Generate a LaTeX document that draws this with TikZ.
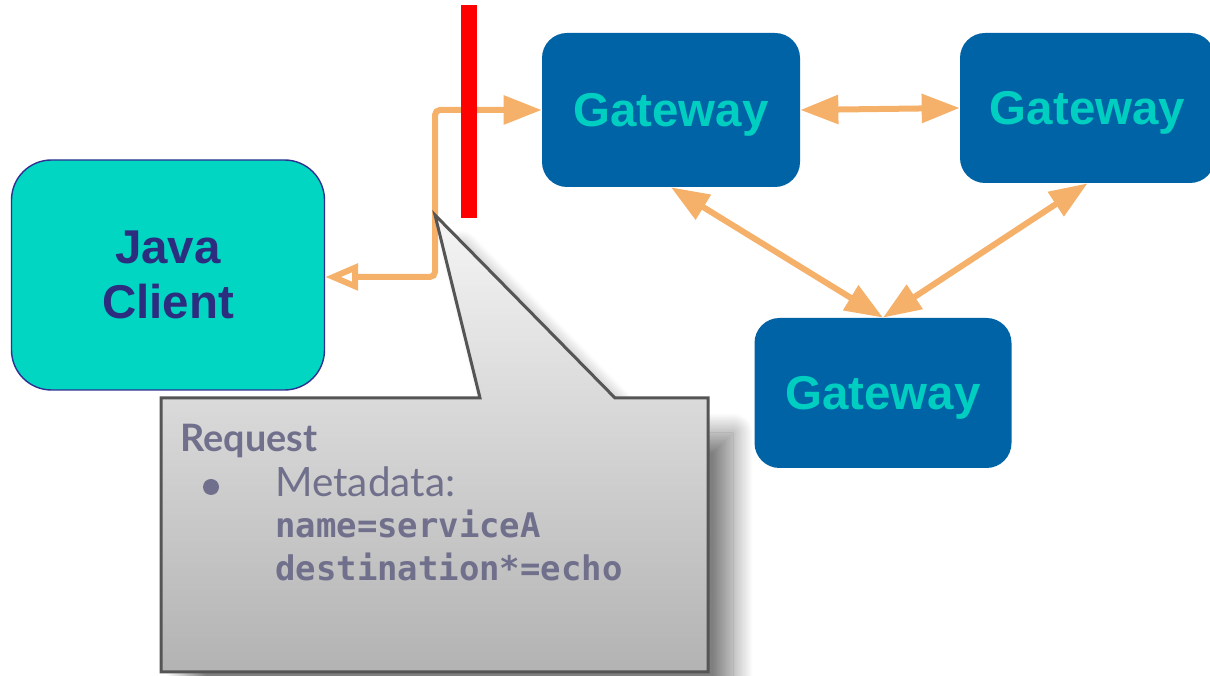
\documentclass[tikz,border=0pt]{standalone}
\usepackage{fontspec}
\setmainfont{Liberation Sans}
\newfontfamily\latofont{Lato}
\setmonofont{DejaVu Sans Mono}
\usetikzlibrary{arrows.meta,shadows.blur}
\definecolor{clientfill}{RGB}{0,214,194}
\definecolor{clientline}{RGB}{46,49,146}
\definecolor{clienttext}{RGB}{45,45,128}
\definecolor{gwblue}{RGB}{0,99,166}
\definecolor{gwtext}{RGB}{0,206,192}
\definecolor{linkc}{RGB}{245,176,106}
\definecolor{calltext}{RGB}{112,112,140}
\definecolor{callline}{RGB}{85,85,85}
\begin{document}
\begin{tikzpicture}[
    client/.style={draw=clientline,line width=0.8pt,fill=clientfill,
        rounded corners=8mm,minimum width=6.26cm,minimum height=4.6cm,
        align=center,text=clienttext,font=\fontsize{27}{31.3}\selectfont\bfseries},
    gw/.style={fill=gwblue,rounded corners=5mm,minimum width=5.16cm,
        minimum height=3.08cm,text depth=0pt,text=gwtext,
        font=\fontsize{27}{32}\selectfont\bfseries},
    wall/.style={fill=red,inner sep=0pt,minimum width=3.2mm,minimum height=4.26cm},
    link/.style={draw=linkc,line width=1.2mm,
        arrows={Triangle[length=7.6mm,width=5.6mm]-Triangle[length=7.6mm,width=5.6mm]}},
    reqlink/.style={draw=linkc,line width=1.2mm,rounded corners=1mm,
        arrows={Triangle[open,length=6.6mm,width=5.2mm]-Triangle[length=7.6mm,width=5.6mm]}},
    callout/.style={draw=callline,line width=0.6mm,top color=gray!8,bottom color=gray!60,
        blur shadow={shadow xshift=5mm,shadow yshift=-7mm,shadow opacity=50,
        shadow blur radius=4mm,shadow blur steps=25}},
    reqtext/.style={inner sep=0pt,anchor=base west,text=calltext,
        font=\latofont\fontsize{21.5}{25}\selectfont\bfseries},
    metatext/.style={inner sep=0pt,anchor=base west,text=calltext,
        font=\latofont\fontsize{23}{27}\selectfont},
    codetext/.style={inner sep=0pt,anchor=base west,text=calltext,
        font=\ttfamily\fontsize{19.3}{23}\selectfont\bfseries},
    dot/.style={circle,fill=calltext,inner sep=0pt,minimum size=3.2mm}
]
    \useasboundingbox (0,0) rectangle (24.2,13.52);

    \node[client] (java) at (3.36,8.02) {Java\\Client};

    \node[gw] (g1) at (13.42,11.32) {Gateway};
    \node[gw,minimum width=5.1cm,minimum height=3cm] (g2) at (21.75,11.36) {Gateway};
    \node[gw,minimum width=5.14cm,minimum height=3cm] (g3) at (17.66,5.66) {Gateway};

    \foreach \x/\y in {g1.east/g2.west,g1.south/g3.north,g2.south/g3.north}
        \draw[link] (\x)--(\y);

    \coordinate (hook) at (8.7,7.98);
    \draw[reqlink] (java.east |- hook) -- (hook) |- (g1.west);

    \node[wall] (fw) at (9.38,11.29) {};

    \coordinate (tip) at (8.7,9.22);
    \draw[callout] (3.22,5.56) -- (9.6,5.56) -- (tip) -- (12.3,5.56)
        -- (14.16,5.56) -- (14.16,0.08) -- (3.22,0.08) -- cycle;

    \node[reqtext] (req) at (3.6,4.48) {Request};
    \node[dot] (bul) at (4.22,3.78) {};
    \node[metatext] (meta) at (5.5,3.58) {Metadata:};
    \node[codetext] (nm) at (5.5,2.76) {name=serviceA};
    \node[codetext] (dst) at (5.5,1.90) {destination*=echo};
\end{tikzpicture}
\end{document}
